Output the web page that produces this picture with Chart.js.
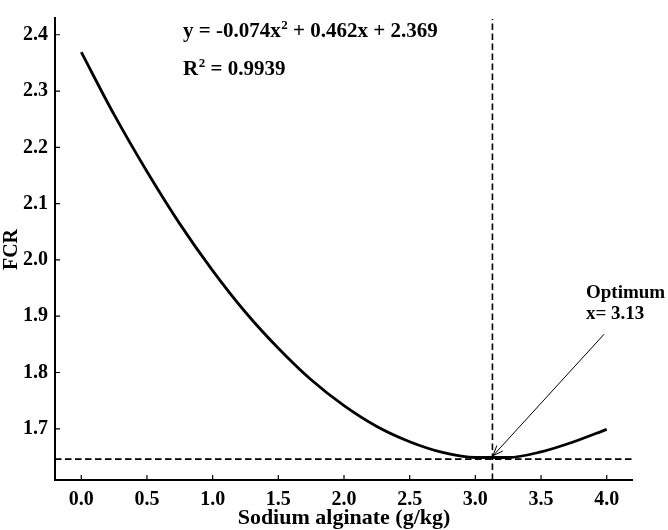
<!DOCTYPE html>
<html>
<head>
<meta charset="utf-8">
<script src="https://cdn.jsdelivr.net/npm/chart.js@4/dist/chart.umd.min.js"></script>
<style>
  html, body { margin: 0; padding: 0; background: #fff; }
  #wrap { width: 668px; height: 530px; }
</style>
</head>
<body>
<div id="wrap"><canvas id="c" width="668" height="530"></canvas></div>
<script>
// ---- data ----
const doseValues = [0, 0.25, 0.5, 0.75, 1.0, 1.25, 1.5, 1.75, 2.0, 2.25, 2.5, 2.75, 3.0, 3.25, 3.5, 3.75, 4.0];
const fcrValues  = [2.369, 2.258, 2.157, 2.064, 1.981, 1.907, 1.843, 1.787, 1.741, 1.704, 1.677, 1.658, 1.649, 1.649, 1.659, 1.677, 1.699];
const xTickValues = [0, 0.5, 1.0, 1.5, 2.0, 2.5, 3.0, 3.5, 4.0];
const yTickValues = [1.7, 1.8, 1.9, 2.0, 2.1, 2.2, 2.3, 2.4];
const xRange = [-0.2, 4.2];
const yRange = [1.609, 2.428];
const optimumX = 3.13;
const minFCR = 1.646;
const equationText = ['y = -0.074x', '2', ' + 0.462x + 2.369'];
const r2Text = ['R', '2', ' = 0.9939'];
const optimumLabel = ['Optimum', 'x= 3.13'];
const arrowFrom = {x: 3.98, y: 1.868};
const arrowTo = {x: 3.134, y: 1.652};

const FONT = "'Liberation Serif', 'Times New Roman', serif";

const curve = doseValues.map((x, i) => ({x, y: fcrValues[i]}));

const overlay = {
  id: 'overlay',
  afterDatasetsDraw(chart) {
    const {ctx, chartArea: a, scales: {x, y}} = chart;
    ctx.save();
    // axis lines
    ctx.strokeStyle = '#000';
    ctx.lineWidth = 2;
    ctx.setLineDash([]);
    ctx.beginPath();
    ctx.moveTo(a.left, a.top - 2);
    ctx.lineTo(a.left, a.bottom);
    ctx.lineTo(a.right, a.bottom);
    ctx.stroke();
    // inward ticks
    ctx.lineWidth = 1.2;
    ctx.beginPath();
    xTickValues.forEach(v => { const p = x.getPixelForValue(v); ctx.moveTo(p, a.bottom); ctx.lineTo(p, a.bottom - 5); });
    yTickValues.forEach(v => { const p = y.getPixelForValue(v); ctx.moveTo(a.left, p); ctx.lineTo(a.left + 5, p); });
    ctx.stroke();

    // arrow
    const x1 = x.getPixelForValue(arrowFrom.x), y1 = y.getPixelForValue(arrowFrom.y);
    const x2 = x.getPixelForValue(arrowTo.x), y2 = y.getPixelForValue(arrowTo.y);
    ctx.lineWidth = 1;
    ctx.beginPath();
    ctx.moveTo(x1, y1); ctx.lineTo(x2, y2);
    const ang = Math.atan2(y2 - y1, x2 - x1);
    const L = 11, w = 0.38;
    ctx.moveTo(x2 - L * Math.cos(ang - w), y2 - L * Math.sin(ang - w));
    ctx.lineTo(x2, y2);
    ctx.lineTo(x2 - L * Math.cos(ang + w), y2 - L * Math.sin(ang + w));
    ctx.stroke();

    // texts
    ctx.fillStyle = '#000';
    ctx.textBaseline = 'alphabetic';
    ctx.textAlign = 'left';
    function supText(parts, px, py, size) {
      ctx.font = `bold ${size}px ${FONT}`;
      ctx.fillText(parts[0], px, py);
      let cx = px + ctx.measureText(parts[0]).width;
      ctx.font = `bold ${Math.round(size * 0.62)}px ${FONT}`;
      ctx.fillText(parts[1], cx + 0.5, py - size * 0.36);
      cx += ctx.measureText(parts[1]).width + 0.5;
      ctx.font = `bold ${size}px ${FONT}`;
      ctx.fillText(parts[2], cx, py);
    }
    supText(equationText, 183, 37, 21);
    supText(r2Text, 183, 75, 21);

    ctx.font = `bold 19px ${FONT}`;
    ctx.fillText(optimumLabel[0], 586, 298);
    ctx.fillText(optimumLabel[1], 586, 319);
    ctx.restore();
  }
};

new Chart(document.getElementById('c'), {
  type: 'scatter',
  data: {
    datasets: [
      {
        data: curve, showLine: true, borderColor: '#000', borderWidth: 2.8,
        pointRadius: 0, cubicInterpolationMode: 'monotone', fill: false
      },
      {
        data: [{x: xRange[0], y: minFCR}, {x: xRange[1], y: minFCR}], showLine: true,
        borderColor: '#000', borderWidth: 1.6, borderDash: [6.5, 3.5], pointRadius: 0
      },
      {
        data: [{x: optimumX, y: yRange[0]}, {x: optimumX, y: yRange[1]}], showLine: true,
        borderColor: '#000', borderWidth: 1.6, borderDash: [6.5, 3.5], pointRadius: 0
      }
    ]
  },
  options: {
    responsive: false,
    devicePixelRatio: 1,
    animation: false,
    layout: { padding: { top: 2, right: 35, left: 0, bottom: 0 } },
    plugins: { legend: { display: false }, tooltip: { enabled: false } },
    scales: {
      x: {
        type: 'linear', min: xRange[0], max: xRange[1],
        grid: { display: false, drawTicks: false }, border: { display: false },
        afterBuildTicks: s => { s.ticks = xTickValues.map(v => ({value: v})); },
        afterFit: s => { s.height = 50; },
        ticks: {
          color: '#000', padding: 8, maxRotation: 0,
          font: { family: FONT, size: 20, weight: 'bold' },
          callback: v => Number(v).toFixed(1)
        },
        title: {
          display: true, text: 'Sodium alginate (g/kg)', color: '#000',
          font: { family: FONT, size: 22, weight: 'bold' }, padding: { top: 0, bottom: -2 }
        }
      },
      y: {
        type: 'linear', min: yRange[0], max: yRange[1],
        grid: { display: false, drawTicks: false }, border: { display: false },
        afterBuildTicks: s => { s.ticks = yTickValues.map(v => ({value: v})); },
        afterFit: s => { s.width = 55; },
        ticks: {
          color: '#000', padding: 7,
          font: { family: FONT, size: 20, weight: 'bold' },
          callback: v => Number(v).toFixed(1)
        },
        title: {
          display: true, text: 'FCR', color: '#000',
          font: { family: FONT, size: 20, weight: 'bold' }, padding: { top: 0, bottom: 0 }
        }
      }
    }
  },
  plugins: [overlay]
});
</script>
</body>
</html>
